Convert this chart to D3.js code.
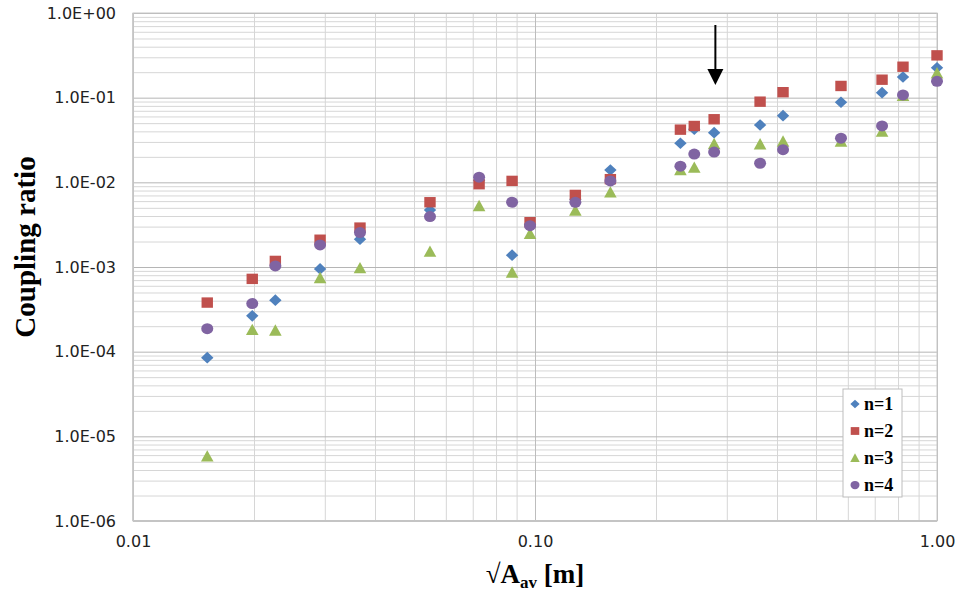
<!DOCTYPE html>
<html>
<head>
<meta charset="utf-8">
<script src="https://cdn.jsdelivr.net/npm/d3@7"></script>
<style>
  html, body { margin: 0; padding: 0; background: #fff; }
  svg { display: block; }
</style>
</head>
<body>
<svg id="chart" width="962" height="594"></svg>
<script>
// ---- data ----
const xValues = [0.0153, 0.0198, 0.0226, 0.0292, 0.0367, 0.0548, 0.0726, 0.0877, 0.0972, 0.126,
                 0.154, 0.230, 0.249, 0.279, 0.363, 0.414, 0.577, 0.730, 0.823, 1.0];
const n1 = [8.5e-5, 2.65e-4, 4.06e-4, 9.5e-4, 2.13e-3, 4.72e-3, 1.05e-2, 1.38e-3, 3.2e-3, 6.3e-3,
            1.40e-2, 2.89e-2, 4.24e-2, 3.86e-2, 4.76e-2, 6.13e-2, 8.82e-2, 0.1146, 0.1756, 0.226];
const n2 = [3.80e-4, 7.24e-4, 1.18e-3, 2.10e-3, 2.92e-3, 5.82e-3, 9.5e-3, 1.04e-2, 3.38e-3, 7.1e-3,
            1.09e-2, 4.19e-2, 4.63e-2, 5.56e-2, 8.97e-2, 0.116, 0.1375, 0.163, 0.232, 0.316];
const n3 = [5.8e-6, 1.81e-4, 1.78e-4, 7.4e-4, 9.7e-4, 1.52e-3, 5.26e-3, 8.6e-4, 2.46e-3, 4.63e-3,
            7.6e-3, 1.40e-2, 1.49e-2, 2.84e-2, 2.82e-2, 3.03e-2, 3.03e-2, 3.97e-2, 0.105, 0.194];
const n4 = [1.87e-4, 3.70e-4, 1.03e-3, 1.82e-3, 2.55e-3, 3.94e-3, 1.15e-2, 5.82e-3, 3.08e-3, 5.8e-3,
            1.04e-2, 1.55e-2, 2.16e-2, 2.28e-2, 1.68e-2, 2.43e-2, 3.32e-2, 4.63e-2, 0.1076, 0.156];
const seriesNames = ["n=1", "n=2", "n=3", "n=4"];
const xTickValues = [0.01, 0.1, 1];
const xTickLabels = ["0.01", "0.10", "1.00"];
const yTickValues = [1e-6, 1e-5, 1e-4, 1e-3, 1e-2, 1e-1, 1];
const yTickLabels = ["1.0E-06", "1.0E-05", "1.0E-04", "1.0E-03", "1.0E-02", "1.0E-01", "1.0E+00"];

// ---- layout ----
const L = 133, R = 937, T = 13, B = 521;
const svg = d3.select("#chart");
const x = d3.scaleLog().domain([0.01, 1]).range([L, R]);
const y = d3.scaleLog().domain([1e-6, 1]).range([B, T]);

const colors = ["#4F81BD", "#C0504D", "#9BBB59", "#8064A2"];
const shapes = ["diamond", "square", "triangle", "circle"];

function shapePath(shape, s) {
  if (shape === "diamond") return `M0,${-5.8*s}L${6.2*s},0L0,${5.8*s}L${-6.2*s},0Z`;
  if (shape === "square") return `M${-5.7*s},${-5.2*s}H${5.7*s}V${5.2*s}H${-5.7*s}Z`;
  if (shape === "triangle") return `M0,${-6.2*s}L${6.3*s},${5.2*s}H${-6.3*s}Z`;
  const rx = 6*s, ry = 5.5*s;
  return `M${-rx},0A${rx},${ry} 0 1,0 ${rx},0A${rx},${ry} 0 1,0 ${-rx},0Z`;
}

// minor tick values
const xMinor = [];
for (let e = -2; e < 0; e++) for (let m = 1; m <= 9; m++) xMinor.push(m * Math.pow(10, e));
xMinor.push(1);
const yMinor = [];
for (let e = -6; e < 0; e++) for (let m = 1; m <= 9; m++) yMinor.push(m * Math.pow(10, e));
yMinor.push(1);

// grid - minor
const gGrid = svg.append("g");
gGrid.append("g")
  .attr("transform", `translate(0,${B})`)
  .call(d3.axisBottom(x).tickValues(xMinor.filter(v => !xTickValues.includes(v))).tickSize(-(B - T)).tickFormat(""))
  .call(g => g.select(".domain").remove())
  .call(g => g.selectAll("line").attr("stroke", "#d6d6d6").attr("stroke-width", 1));
gGrid.append("g")
  .attr("transform", `translate(${L},0)`)
  .call(d3.axisLeft(y).tickValues(yMinor.filter(v => !yTickValues.includes(v))).tickSize(-(R - L)).tickFormat(""))
  .call(g => g.select(".domain").remove())
  .call(g => g.selectAll("line").attr("stroke", "#d6d6d6").attr("stroke-width", 1));
// grid - major
gGrid.append("g")
  .attr("transform", `translate(0,${B})`)
  .call(d3.axisBottom(x).tickValues(xTickValues).tickSize(-(B - T)).tickFormat(""))
  .call(g => g.select(".domain").remove())
  .call(g => g.selectAll("line").attr("stroke", "#bdbdbd").attr("stroke-width", 1));
gGrid.append("g")
  .attr("transform", `translate(${L},0)`)
  .call(d3.axisLeft(y).tickValues(yTickValues).tickSize(-(R - L)).tickFormat(""))
  .call(g => g.select(".domain").remove())
  .call(g => g.selectAll("line").attr("stroke", "#b5b5b5").attr("stroke-width", 1));

// plot border
svg.append("rect").attr("x", L).attr("y", T).attr("width", R - L).attr("height", B - T)
  .attr("fill", "none").attr("stroke", "#c8c8c8").attr("stroke-width", 1);
svg.append("line").attr("x1", L).attr("x2", R).attr("y1", B).attr("y2", B)
  .attr("stroke", "#c4c4c4").attr("stroke-width", 2);
svg.append("line").attr("x1", L).attr("x2", L).attr("y1", T).attr("y2", B)
  .attr("stroke", "#c4c4c4").attr("stroke-width", 1.5);

// tick labels
const tickFont = "'DejaVu Sans', sans-serif";
svg.append("g")
  .attr("transform", `translate(0,${B})`)
  .call(d3.axisBottom(x).tickValues(xTickValues).tickSize(0).tickPadding(15)
        .tickFormat((d, i) => xTickLabels[i]))
  .call(g => g.select(".domain").remove())
  .call(g => g.selectAll("text").attr("font-family", tickFont).attr("font-size", 16).attr("fill", "#222"));
svg.append("g")
  .attr("transform", `translate(${L},0)`)
  .call(d3.axisLeft(y).tickValues(yTickValues).tickSize(0).tickPadding(17)
        .tickFormat((d, i) => yTickLabels[i]))
  .call(g => g.select(".domain").remove())
  .call(g => g.selectAll("text").attr("font-family", tickFont).attr("font-size", 16).attr("fill", "#222"));

// series
const allSeries = [n1, n2, n3, n4];
allSeries.forEach((vals, si) => {
  svg.append("g").selectAll("path")
    .data(vals.map((v, i) => ({ x: xValues[i], y: v })))
    .join("path")
    .attr("transform", d => `translate(${x(d.x)},${y(d.y)})`)
    .attr("d", shapePath(shapes[si], 1))
    .attr("fill", colors[si]);
});

// arrow annotation
const arrowX = x(0.281);
svg.append("line").attr("x1", arrowX).attr("x2", arrowX).attr("y1", 25).attr("y2", 72)
  .attr("stroke", "#000").attr("stroke-width", 2);
svg.append("path")
  .attr("d", `M${arrowX - 8},69L${arrowX + 8},69L${arrowX},85Z`)
  .attr("fill", "#000");

// legend
const lg = svg.append("g");
lg.append("rect").attr("x", 843).attr("y", 389).attr("width", 59).attr("height", 108)
  .attr("fill", "#fff").attr("stroke", "#bdbdbd").attr("stroke-width", 1);
seriesNames.forEach((name, i) => {
  const cy = 404 + i * 27;
  lg.append("path").attr("transform", `translate(855,${cy})`)
    .attr("d", shapePath(shapes[i], 0.75)).attr("fill", colors[i]);
  lg.append("text").attr("x", 864).attr("y", cy + 6)
    .attr("font-family", "'Liberation Serif', 'Times New Roman', serif")
    .attr("font-weight", "bold").attr("font-size", 18).attr("fill", "#000")
    .text(name);
});

// axis titles
const titleFont = "'Liberation Serif', 'Times New Roman', serif";
const xt = svg.append("text").attr("x", 535).attr("y", 583)
  .attr("text-anchor", "middle")
  .attr("font-family", titleFont).attr("font-weight", "bold").attr("font-size", 27).attr("fill", "#000");
xt.append("tspan").text("\u221AA");
xt.append("tspan").attr("font-size", 17).attr("dy", 5).text("av");
xt.append("tspan").attr("dy", -5).text(" [m]");

svg.append("text")
  .attr("transform", "translate(35,247) rotate(-90)")
  .attr("text-anchor", "middle")
  .attr("font-family", titleFont).attr("font-weight", "bold").attr("font-size", 29).attr("fill", "#000")
  .text("Coupling ratio");
</script>
</body>
</html>
